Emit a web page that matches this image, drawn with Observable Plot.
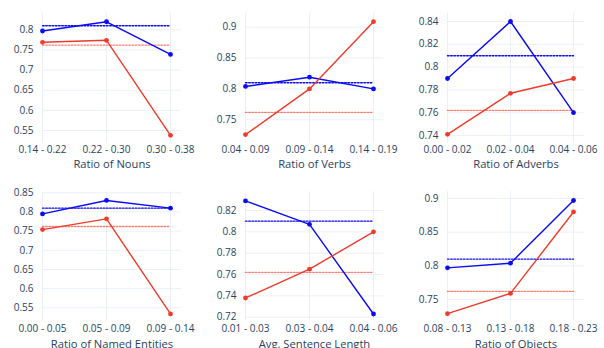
<!DOCTYPE html>
<html>
<head>
<meta charset="utf-8">
<script src="https://cdn.jsdelivr.net/npm/d3@7"></script>
<script src="https://cdn.jsdelivr.net/npm/@observablehq/plot@0.6"></script>
<style>
  html, body { margin: 0; padding: 0; background: #fff; }
  #chart { position: relative; width: 604px; height: 348px; overflow: hidden; font-family: "Open Sans", sans-serif; }
  #chart svg { position: absolute; }
  #chart g[aria-label="x-axis label"] text { font-size: 11.2px; }
</style>
</head>
<body>
<div id="chart"></div>
<script>
// ---- data ----
const nounsCats = ["0.14 - 0.22", "0.22 - 0.30", "0.30 - 0.38"];
const nounsBlue = [0.797, 0.820, 0.739];
const nounsRed = [0.769, 0.774, 0.538];
const nounsTicks = [0.55, 0.6, 0.65, 0.7, 0.75, 0.8];

const verbsCats = ["0.04 - 0.09", "0.09 - 0.14", "0.14 - 0.19"];
const verbsBlue = [0.804, 0.819, 0.800];
const verbsRed = [0.726, 0.800, 0.909];
const verbsTicks = [0.75, 0.8, 0.85, 0.9];

const adverbsCats = ["0.00 - 0.02", "0.02 - 0.04", "0.04 - 0.06"];
const adverbsBlue = [0.790, 0.840, 0.760];
const adverbsRed = [0.741, 0.777, 0.790];
const adverbsTicks = [0.74, 0.76, 0.78, 0.8, 0.82, 0.84];

const entitiesCats = ["0.00 - 0.05", "0.05 - 0.09", "0.09 - 0.14"];
const entitiesBlue = [0.795, 0.830, 0.810];
const entitiesRed = [0.754, 0.782, 0.534];
const entitiesTicks = [0.55, 0.6, 0.65, 0.7, 0.75, 0.8, 0.85];

const sentLenCats = ["0.01 - 0.03", "0.03 - 0.04", "0.04 - 0.06"];
const sentLenBlue = [0.829, 0.807, 0.723];
const sentLenRed = [0.738, 0.765, 0.800];
const sentLenTicks = [0.72, 0.74, 0.76, 0.78, 0.8, 0.82];

const objectsCats = ["0.08 - 0.13", "0.13 - 0.18", "0.18 - 0.23"];
const objectsBlue = [0.797, 0.804, 0.897];
const objectsRed = [0.729, 0.759, 0.880];
const objectsTicks = [0.75, 0.8, 0.85, 0.9];

const titles = ["Ratio of Nouns", "Ratio of Verbs", "Ratio of Adverbs",
                "Ratio of Named Entities", "Avg. Sentence Length", "Ratio of Objects"];

const blueBaseline = 0.81;
const redBaseline = 0.762;

// ---- styling / layout ----
const textColor = "#2a3f5f";
const gridColor = "#ebf0f8";
const blueColor = "#0a0af5";
const redColor = "#ee3b2b";

const cols = [
  {left: 0, width: 200, ml: 42, mr: 19},
  {left: 200, width: 200, ml: 45, mr: 17},
  {left: 400, width: 204, ml: 47, mr: 20}
];
const rowsGeom = [
  {top: 0, height: 174, mt: 13, mb: 31.5, tickPad: 3, labelOffset: 25},
  {top: 174, height: 174, mt: 17, mb: 28, tickPad: 4, labelOffset: 27}
];

const panels = [
  {cats: nounsCats, blue: nounsBlue, red: nounsRed, ticks: nounsTicks, domain: [0.519, 0.8405]},
  {cats: verbsCats, blue: verbsBlue, red: verbsRed, ticks: verbsTicks, domain: [0.7124, 0.9222]},
  {cats: adverbsCats, blue: adverbsBlue, red: adverbsRed, ticks: adverbsTicks, domain: [0.7334, 0.847]},
  {cats: entitiesCats, blue: entitiesBlue, red: entitiesRed, ticks: entitiesTicks, domain: [0.5169, 0.8534]},
  {cats: sentLenCats, blue: sentLenBlue, red: sentLenRed, ticks: sentLenTicks, domain: [0.7169, 0.8378]},
  {cats: objectsCats, blue: objectsBlue, red: objectsRed, ticks: objectsTicks, domain: [0.7188, 0.9104]}
];

const fmt = d => String(+d.toFixed(2));
const container = document.getElementById("chart");

panels.forEach((p, i) => {
  const c = cols[i % 3];
  const r = rowsGeom[Math.floor(i / 3)];
  const rows = p.cats.map((cat, k) => ({cat, blue: p.blue[k], red: p.red[k], bb: blueBaseline, rb: redBaseline}));
  const svg = Plot.plot({
    width: c.width,
    height: r.height,
    marginLeft: c.ml,
    marginRight: c.mr,
    marginTop: r.mt,
    marginBottom: r.mb,
    style: {fontFamily: "'Open Sans', sans-serif", fontSize: "10px", color: textColor, background: "transparent", overflow: "visible"},
    x: {type: "point", domain: p.cats, padding: 0, align: 0, range: [c.ml, c.width - c.mr - 10]},
    y: {domain: p.domain},
    marks: [
      Plot.gridY(p.ticks, {stroke: gridColor, strokeOpacity: 1, strokeWidth: 1}),
      Plot.gridX(p.cats, {stroke: gridColor, strokeOpacity: 1, strokeWidth: 1}),
      Plot.axisY(p.ticks, {tickSize: 0, tickPadding: 9, tickFormat: fmt, fill: textColor, label: null}),
      Plot.axisX(p.cats, {tickSize: 0, tickPadding: r.tickPad, fill: textColor, label: titles[i],
        labelAnchor: "center", labelArrow: "none", labelOffset: r.labelOffset}),
      Plot.line(rows, {x: "cat", y: "bb", stroke: blueColor, strokeWidth: 1.4, strokeDasharray: "1.6,1.6"}),
      Plot.line(rows, {x: "cat", y: "rb", stroke: redColor, strokeOpacity: 0.65, strokeWidth: 1.4, strokeDasharray: "1.6,1.6"}),
      Plot.line(rows, {x: "cat", y: "blue", stroke: blueColor, strokeWidth: 1.4}),
      Plot.dot(rows, {x: "cat", y: "blue", fill: blueColor, r: 2.4}),
      Plot.line(rows, {x: "cat", y: "red", stroke: redColor, strokeWidth: 1.4}),
      Plot.dot(rows, {x: "cat", y: "red", fill: redColor, r: 2.4})
    ]
  });
  svg.style.left = c.left + "px";
  svg.style.top = r.top + "px";
  container.appendChild(svg);
});
</script>
</body>
</html>
